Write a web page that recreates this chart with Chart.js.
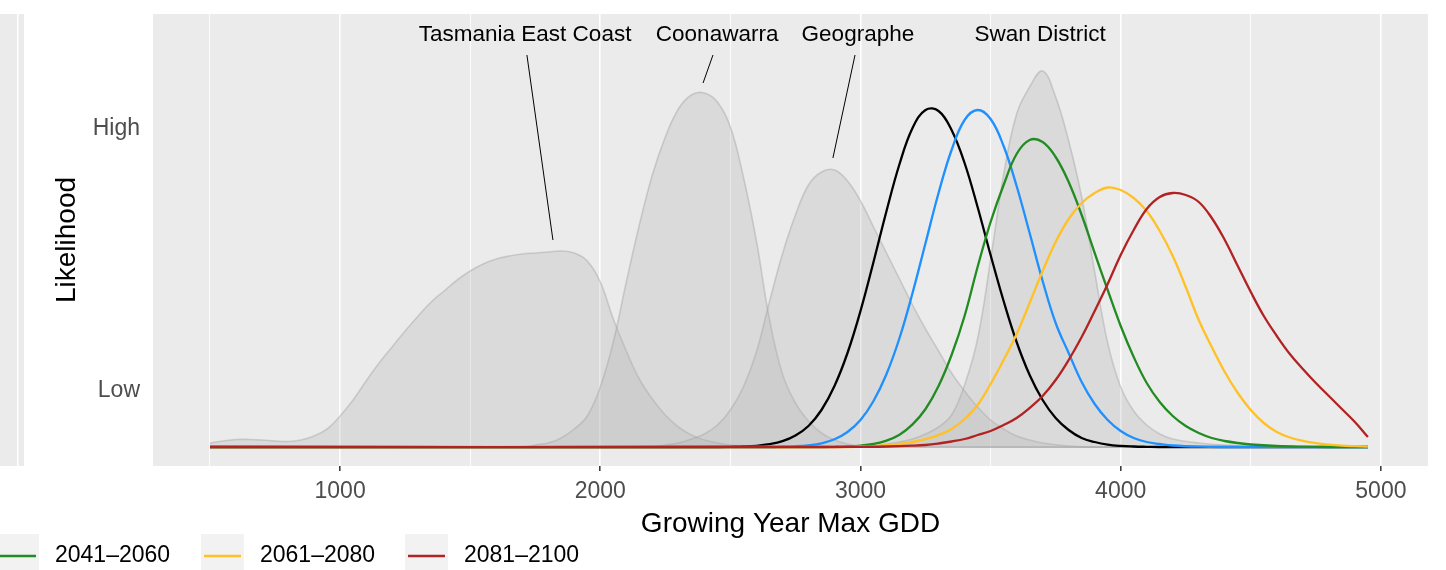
<!DOCTYPE html>
<html>
<head>
<meta charset="utf-8">
<title>Growing Year Max GDD</title>
<script src="https://cdn.jsdelivr.net/npm/chart.js@4.4.0/dist/chart.umd.min.js"></script>
<style>
  html, body { margin: 0; padding: 0; background: #ffffff; }
  #wrap { width: 1446px; height: 570px; }
</style>
</head>
<body>
<div id="wrap"><canvas id="chart" width="1446" height="570"></canvas></div>
<script>
// axis breaks
var gddBreaks = [500, 1000, 1500, 2000, 2500, 3000, 3500, 4000, 4500, 5000];
var likBreaks = [56, 318];
var likLabels = ['Low', 'High'];

// region densities, [GDD, likelihood]
var tasmaniaCurve = [[500,4],[550,6],[600,7.5],[650,7.5],[700,7],[750,6],[800,5.5],[850,7],[900,11],[950,18],[1000,31],[1050,47],[1100,66],[1150,84],[1200,100],[1250,116],[1300,131],[1350,145],[1400,156],[1450,167],[1500,176],[1550,183],[1600,188],[1650,191],[1700,193],[1750,194],[1800,195],[1850,196],[1900,194],[1950,186],[2000,165],[2050,128],[2100,96],[2150,68],[2200,48],[2250,32],[2300,20],[2350,12],[2400,7],[2450,4],[2500,2],[2600,1],[2700,0],[4950,0]];
var coonawarraCurve = [[500,0],[1700,0],[1750,2],[1800,4],[1850,9],[1900,18],[1950,31],[2000,60],[2050,105],[2100,165],[2150,222],[2200,272],[2250,310],[2300,338],[2350,352],[2400,354],[2450,345],[2500,320],[2550,270],[2600,206],[2650,128],[2700,73],[2750,44],[2800,26],[2850,14],[2900,7],[2950,3],[3000,1],[3100,0],[4950,0]];
var geographeCurve = [[500,0],[2200,0],[2250,2],[2300,4],[2350,8],[2400,13],[2450,22],[2500,37],[2550,60],[2600,95],[2650,145],[2700,193],[2750,232],[2800,262],[2850,275],[2900,277],[2950,266],[3000,246],[3050,220],[3100,194],[3150,168],[3200,142],[3250,118],[3300,96],[3350,74],[3400,56],[3450,40],[3500,27],[3550,18],[3600,11],[3650,7],[3700,4],[3800,1],[3900,0],[4950,0]];
var swanCurve = [[500,0],[3000,0],[3100,3],[3150,5],[3200,8],[3250,13],[3300,20],[3350,32],[3400,62],[3450,108],[3500,187],[3550,272],[3600,333],[3650,360],[3700,376],[3750,350],[3800,306],[3850,250],[3900,175],[3950,104],[4000,60],[4050,36],[4100,22],[4150,13],[4200,8],[4300,4],[4400,2],[4500,1],[4600,0],[4950,0]];

// period curves
var histCurve = [[500,0],[2450,0],[2500,0.2],[2550,0.5],[2600,1.2],[2650,2.8],[2700,5.8],[2750,11.5],[2800,21],[2850,37],[2900,61],[2950,94],[3000,136],[3050,185],[3100,236],[3150,283],[3200,319],[3250,337],[3300,336],[3350,317],[3400,284],[3450,240],[3500,192],[3550,146],[3600,105],[3650,72],[3700,47],[3750,29],[3800,17],[3850,9],[3900,5],[3950,2.4],[4000,1.1],[4050,0.5],[4100,0.2],[4150,0],[4950,0]];
var p2021Curve = [[500,0],[2650,0],[2700,0.3],[2750,0.7],[2800,1.7],[2850,3.7],[2900,7.7],[2950,15],[3000,27],[3050,46],[3100,73],[3150,109],[3200,154],[3250,204],[3300,254],[3350,297],[3400,327],[3450,337],[3500,328],[3550,301],[3600,261],[3650,214],[3700,166],[3750,124],[3800,94],[3850,65],[3900,43],[3950,27],[4000,16],[4050,9],[4100,5],[4150,3],[4200,1.5],[4300,0.3],[4400,0],[4950,0]];
var p2041Curve = [[500,0],[2850,0],[2900,0.2],[2950,0.6],[3000,1.4],[3050,3.1],[3100,6.4],[3150,12.3],[3200,22.6],[3250,38],[3300,61],[3350,92],[3400,131],[3450,180],[3500,225],[3550,262],[3600,293],[3650,307],[3700,305],[3750,290],[3800,265],[3850,232],[3900,194],[3950,157],[4000,121],[4050,90],[4100,64],[4150,45],[4200,31],[4250,21],[4300,14],[4350,9],[4400,6],[4450,4],[4500,2.5],[4600,1],[4700,0.3],[4800,0],[4950,0]];
var p2061Curve = [[500,0],[2950,0],[3000,0.5],[3050,0.9],[3100,1.9],[3150,3.1],[3200,5],[3250,7.8],[3300,11.9],[3350,18],[3400,28],[3450,42],[3500,63],[3550,87],[3600,113],[3650,144],[3700,176],[3750,205],[3800,228],[3850,244],[3900,254],[3950,259.5],[4000,257],[4050,249],[4100,236],[4150,216],[4200,191],[4250,160],[4300,127],[4350,100],[4400,75],[4450,54],[4500,37],[4550,24],[4600,15],[4650,9.5],[4700,6.2],[4750,3.9],[4800,2.4],[4850,1.4],[4900,0.8],[4950,0.3]];
var p2081Curve = [[500,0],[2900,0],[3000,0.2],[3100,0.5],[3200,1.3],[3250,2],[3300,3.5],[3350,5.5],[3400,8],[3450,12],[3500,16],[3550,22],[3600,29],[3650,39],[3700,51],[3750,67],[3800,87],[3850,110],[3900,136],[3950,163],[4000,192],[4050,217],[4100,238],[4150,250],[4200,254],[4250,252],[4300,245],[4350,229],[4400,207],[4450,181],[4500,155],[4550,131],[4600,111],[4650,93],[4700,78],[4750,64],[4800,51],[4850,38],[4900,25],[4950,10]];

// site labels: name, label anchor and leader line [gdd0, lik0, gdd1, lik1]
var siteNames = ['Tasmania East Coast', 'Coonawarra', 'Geographe', 'Swan District'];
var siteLabelGdd = [1711, 2449, 2990, 3690];
var siteLabelLik = 412;
var siteLeaders = [[1718, 392, 1818, 207], [2433, 392, 2395, 364], [2979, 392, 2894, 289], null];

// legend (only the part that is inside the picture)
var legendLabels = ['2041\u20132060', '2061\u20132080', '2081\u20132100'];
var legendColors = ['#228b22', '#ffc125', '#b22222'];

Chart.defaults.font.family = '"Liberation Sans", Arial, sans-serif';

function pts(curve){
    return curve.map(function(p){ return {x: p[0], y: p[1]}; });
}
function region(label, curve, order){
    return {
        label: label, data: pts(curve), order: order,
        borderColor: 'rgba(165,165,165,0.45)', borderWidth: 1.6,
        backgroundColor: 'rgba(175,175,175,0.28)', fill: 'origin',
        pointRadius: 0, tension: 0.4
    };
}
function period(label, curve, color, order){
    return {
        label: label, data: pts(curve), order: order,
        borderColor: color, borderWidth: 2.3, fill: false,
        pointRadius: 0, tension: 0.4
    };
}

// grey panel + the neighbouring facet cut off at the left edge
var panelBg = {
    id: 'panelBg',
    beforeDraw: function(chart){
        var ctx = chart.ctx, a = chart.chartArea;
        ctx.save();
        ctx.fillStyle = '#ebebeb';
        ctx.fillRect(a.left, a.top, a.right - a.left, a.bottom - a.top);
        ctx.fillRect(0, a.top, 24, a.bottom - a.top);
        ctx.fillStyle = '#ffffff';
        ctx.fillRect(17, a.top, 1.5, a.bottom - a.top);
        ctx.restore();
    }
};

var siteText = {
    id: 'siteText',
    afterDatasetsDraw: function(chart){
        var ctx = chart.ctx, xs = chart.scales.x, ys = chart.scales.y;
        ctx.save();
        ctx.strokeStyle = '#000000';
        ctx.lineWidth = 1;
        siteLeaders.forEach(function(seg){
            if(!seg) return;
            ctx.beginPath();
            ctx.moveTo(xs.getPixelForValue(seg[0]), ys.getPixelForValue(seg[1]));
            ctx.lineTo(xs.getPixelForValue(seg[2]), ys.getPixelForValue(seg[3]));
            ctx.stroke();
        });
        ctx.fillStyle = '#000000';
        ctx.font = '22.5px "Liberation Sans", Arial, sans-serif';
        ctx.textAlign = 'center';
        ctx.textBaseline = 'middle';
        siteNames.forEach(function(name, i){
            ctx.fillText(name, xs.getPixelForValue(siteLabelGdd[i]), ys.getPixelForValue(siteLabelLik));
        });
        ctx.restore();
    }
};

var bottomLegend = {
    id: 'bottomLegend',
    afterDraw: function(chart){
        var ctx = chart.ctx;
        var keyX = [-4, 201, 405], keyW = 43, midY = 556;
        ctx.save();
        ctx.font = '23px "Liberation Sans", Arial, sans-serif';
        ctx.textBaseline = 'middle';
        ctx.textAlign = 'left';
        legendLabels.forEach(function(txt, i){
            ctx.fillStyle = '#f2f2f2';
            ctx.fillRect(keyX[i], midY - 22, keyW, 44);
            ctx.strokeStyle = legendColors[i];
            ctx.lineWidth = 2.5;
            ctx.beginPath();
            ctx.moveTo(keyX[i] + 3, midY);
            ctx.lineTo(keyX[i] + keyW - 3, midY);
            ctx.stroke();
            ctx.fillStyle = '#000000';
            ctx.fillText(txt, keyX[i] + keyW + 16, midY);
        });
        ctx.restore();
    }
};

new Chart(document.getElementById('chart'), {
    type: 'line',
    data: {
        datasets: [
            period('2081\u20132100', p2081Curve, '#b22222', 0),
            period('2061\u20132080', p2061Curve, '#ffc125', 1),
            period('2041\u20132060', p2041Curve, '#228b22', 2),
            period('2021\u20132040', p2021Curve, '#1e90ff', 3),
            period('Historical', histCurve, '#000000', 4),
            region('Swan District', swanCurve, 5),
            region('Geographe', geographeCurve, 6),
            region('Coonawarra', coonawarraCurve, 7),
            region('Tasmania East Coast', tasmaniaCurve, 8)
        ]
    },
    options: {
        responsive: false,
        animation: false,
        devicePixelRatio: 1,
        layout: { padding: { top: 14, right: 18, left: 0, bottom: 0 } },
        plugins: { legend: { display: false }, tooltip: { enabled: false } },
        scales: {
            x: {
                type: 'linear', min: 281, max: 5181,
                afterBuildTicks: function(s){ s.ticks = gddBreaks.map(function(v){ return {value: v}; }); },
                afterFit: function(s){ s.height = 104; s.paddingLeft = 0; s.paddingRight = 0; },
                border: { display: false },
                grid: {
                    color: '#ffffff',
                    lineWidth: function(c){ return c.tick && c.tick.value % 1000 === 0 ? 1.6 : 0.9; },
                    drawTicks: true, tickLength: 5, tickWidth: 1.5,
                    tickColor: function(c){ return c.tick && c.tick.value % 1000 === 0 ? '#333333' : 'rgba(0,0,0,0)'; }
                },
                ticks: {
                    color: '#4d4d4d', font: { size: 23 }, padding: 7, maxRotation: 0, autoSkip: false,
                    callback: function(v){ return v % 1000 === 0 ? String(v) : ''; }
                },
                title: { display: true, text: 'Growing Year Max GDD', color: '#000000', font: { size: 28 }, padding: { top: 0, bottom: 29 } }
            },
            y: {
                min: -19, max: 433,
                afterBuildTicks: function(s){ s.ticks = likBreaks.map(function(v){ return {value: v}; }); },
                afterFit: function(s){ s.width = 153; s.paddingTop = 0; s.paddingBottom = 0; },
                border: { display: false },
                grid: { display: false, drawTicks: false },
                ticks: {
                    color: '#4d4d4d', font: { size: 23 }, padding: 13,
                    callback: function(v){ return likLabels[likBreaks.indexOf(v)]; }
                },
                title: { display: true, text: 'Likelihood', color: '#000000', font: { size: 28 }, padding: { top: 50, bottom: 0 } }
            }
        }
    },
    plugins: [panelBg, siteText, bottomLegend]
});
</script>
</body>
</html>
